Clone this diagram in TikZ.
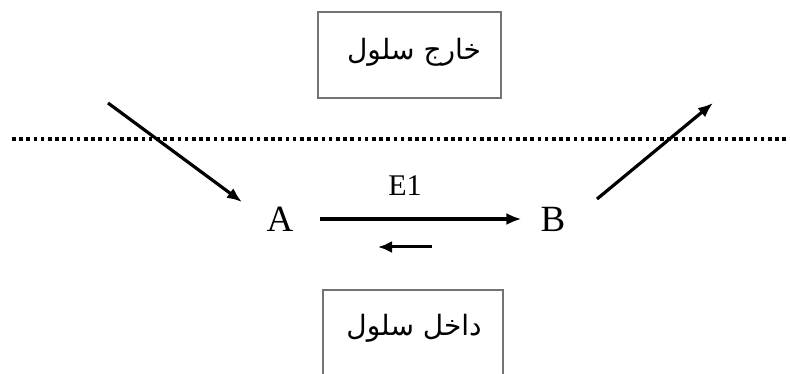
\documentclass[tikz,border=0pt]{standalone}
\usepackage{fontspec}
\setmainfont{Liberation Serif}
\newfontfamily\arabicfont[Script=Arabic]{DejaVu Sans}
\newfontfamily\latinfont{Liberation Serif}
\TeXXeTstate=1
\usetikzlibrary{arrows.meta}
\tikzset{
  cellbox/.style={draw=black!55, line width=2.2pt, inner sep=0pt},
  arr/.style={line width=3.2pt, -{Latex[length=15pt,width=12pt]}},
  smallarr/.style={line width=3pt, -{Latex[length=14pt,width=12pt]}},
  lbl/.style={font=\latinfont\fontsize{37}{37}\selectfont, inner sep=0pt},
  enz/.style={font=\latinfont\fontsize{30}{30}\selectfont, inner sep=0pt},
  ar/.style={font=\arabicfont\fontsize{28}{32}\selectfont, inner sep=0pt},
}
\begin{document}
\begin{tikzpicture}[x=1pt,y=-1pt]
\useasboundingbox (0,0) rectangle (790,374);
\begin{scope}
\clip (0,0) rectangle (790,374);
% boxes
\draw[cellbox] (318,12) rectangle (501,98);
\node[ar] (out) at (414,52) {\beginR خارج سلول\endR};
\draw[cellbox] (323,290) rectangle (503,390);
\node[ar] (in) at (414,328) {\beginR داخل سلول\endR};
\end{scope}
% membrane
\draw[line width=3.6pt, dash pattern=on 3.6pt off 3.6pt] (12,139) -- (790,139);
% nodes
\node[lbl] (A) at (280,219) {A};
\node[lbl] (B) at (553,219) {B};
\node[enz] (E) at (405,186) {E1};
% connectors
\coordinate (s1) at (108,103);
\coordinate (t1) at (242,202);
\coordinate (s2) at (597,199);
\coordinate (t2) at (713,103);
\draw[arr] (s1) -- (t1);
\draw[arr] (s2) -- (t2);
\draw[arr, shorten <=26pt, shorten >=19pt] (A.east) -- (B.west);
\coordinate (r1) at (432,247);
\coordinate (r2) at (378,247);
\draw[smallarr] (r1) -- (r2);
\end{tikzpicture}
\end{document}
